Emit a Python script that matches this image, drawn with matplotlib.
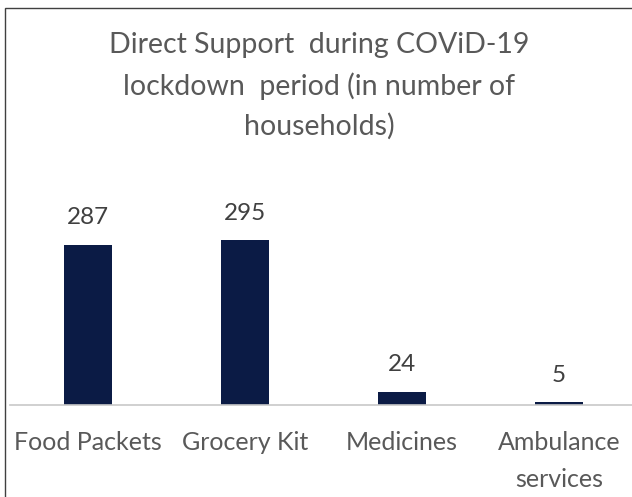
import matplotlib
matplotlib.use("Agg")
import matplotlib.pyplot as plt
from matplotlib.patches import Rectangle

categories = ["Food Packets", "Grocery Kit", "Medicines", "Ambulance\nservices"]
values = [287, 295, 24, 5]
title = "Direct Support  during COViD-19\nlockdown  period (in number of\nhouseholds)"

W, H = 632, 497
fig = plt.figure(figsize=(W/100, H/100), dpi=100)
fig.patch.set_facecolor("white")

# axes: category spacing 157px, baseline at y=405 (from top)
px_per_unit = 0.559
ymax = 400
ax_h = ymax * px_per_unit
ax = fig.add_axes([9.5/W, (H-405)/H, 628/W, ax_h/H])
ax.set_xlim(-0.5, 3.5)
ax.set_ylim(0, ymax)

x = list(range(len(categories)))
bars = ax.bar(x, values, width=0.31, color="#0b1b45", zorder=2)
for xi, v in zip(x, values):
    ax.text(xi, v + 29, str(v), ha="center", va="bottom", fontsize=17.5,
            color="#404040", family=["Lato", "DejaVu Sans"])

for s in ["top", "right", "left"]:
    ax.spines[s].set_visible(False)
ax.spines["bottom"].set_color("#c8c8c8")
ax.spines["bottom"].set_linewidth(1.2)
ax.set_yticks([])
ax.set_xticks(x)
ax.set_xticklabels(categories, fontsize=18, color="#595959",
                   family=["Lato", "DejaVu Sans"], linespacing=1.7)
ax.tick_params(axis="x", length=0, pad=19)

fig.text(0.505, (H-86)/H, title, ha="center", va="center", fontsize=20.5,
         color="#595959", family=["Lato", "DejaVu Sans"], linespacing=1.6)

# outer border
fig.patches.append(Rectangle((5/W, -0.1), 1.2, (H-8)/H + 0.1,
                             transform=fig.transFigure, fill=False,
                             edgecolor="#404040", linewidth=1.0))

fig.savefig("out.png", dpi=100, facecolor="white")
